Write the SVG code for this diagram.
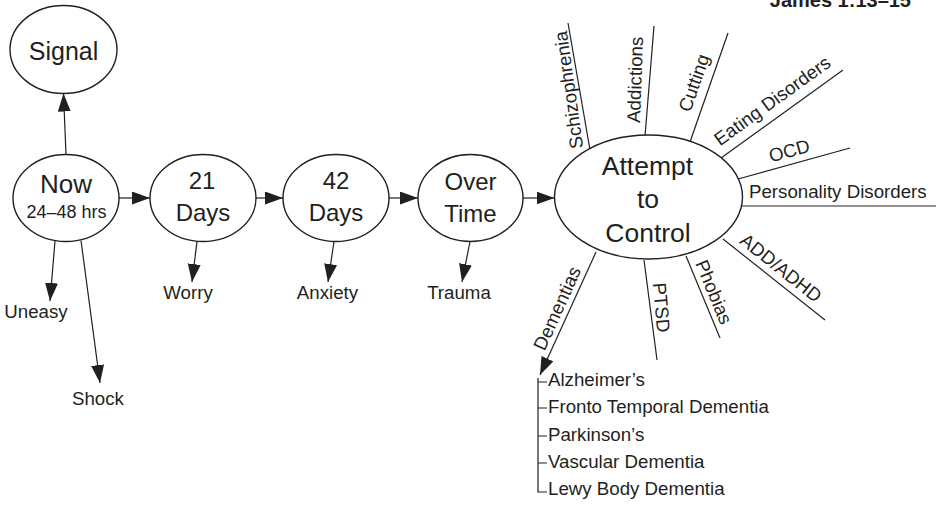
<svg xmlns="http://www.w3.org/2000/svg" width="940" height="505" viewBox="0 0 940 505">
<defs>
<marker id="ah" markerUnits="userSpaceOnUse" markerWidth="20" markerHeight="14" refX="18" refY="6.5" orient="auto">
<path d="M0,0 L18,6.5 L0,13 z" fill="#231f20"/>
</marker>
<style>
text{font-family:"Liberation Sans",Arial,sans-serif;fill:#231f20;}
.node ellipse{fill:#fff;stroke:#231f20;stroke-width:1.4;}
.big{font-size:24px;text-anchor:middle;}
.mid{font-size:18px;text-anchor:middle;}
.lbl{font-size:18.7px;}
.c{text-anchor:middle;}
.conn line,.conn path{stroke:#231f20;stroke-width:1.2;fill:none;}
.arr{marker-end:url(#ah);}
</style>
</defs>
<rect width="940" height="505" fill="#fff"/>
<text x="911" y="7" style="font-size:20px;font-weight:bold;text-anchor:end">James 1:13–15</text>
<g class="conn" id="connectors">
<line class="arr" x1="66" y1="154.5" x2="63.5" y2="93.5"/>
<line class="arr" x1="119" y1="198" x2="150" y2="198"/>
<line class="arr" x1="256" y1="198" x2="283" y2="198"/>
<line class="arr" x1="389" y1="198" x2="418" y2="198"/>
<line class="arr" x1="523" y1="198" x2="554.5" y2="198"/>
<line class="arr" x1="55" y1="241" x2="50" y2="301"/>
<line class="arr" x1="81" y1="240.5" x2="100" y2="383"/>
<line class="arr" x1="197" y1="241.5" x2="192" y2="282"/>
<line class="arr" x1="334" y1="241.5" x2="328" y2="282"/>
<line class="arr" x1="470" y1="241.5" x2="462" y2="282"/>
<line x1="590" y1="150" x2="568" y2="23"/>
<line x1="645" y1="136" x2="654" y2="26"/>
<line x1="690" y1="142" x2="728" y2="33"/>
<line x1="721" y1="158" x2="843" y2="70"/>
<line x1="738" y1="179" x2="850" y2="148"/>
<line x1="741" y1="206" x2="936" y2="206"/>
<line x1="723" y1="239" x2="825" y2="320"/>
<line x1="686" y1="256" x2="720" y2="338"/>
<line x1="644" y1="260" x2="657" y2="360"/>
<line class="arr" x1="596" y1="252" x2="540" y2="375"/>
<path d="M538,378 V492 H547 M538,382 H547 M538,408 H547 M538,436 H547 M538,463 H547"/>
</g>
<g class="node" id="signal"><ellipse cx="63.5" cy="49.5" rx="53.5" ry="44"/><text class="big" x="63.5" y="60" style="font-size:25px">Signal</text></g>
<g class="node" id="now"><ellipse cx="66" cy="198" rx="53" ry="43.5"/><text class="big" x="66" y="193" style="font-size:26px">Now</text><text class="mid" x="66.5" y="218">24–48 hrs</text></g>
<g class="node" id="days21"><ellipse cx="203" cy="198" rx="53" ry="43.5"/><text class="big" x="202" y="189">21</text><text class="big" x="203" y="221">Days</text></g>
<g class="node" id="days42"><ellipse cx="336" cy="198" rx="53" ry="43.5"/><text class="big" x="336" y="189">42</text><text class="big" x="336" y="221">Days</text></g>
<g class="node" id="overtime"><ellipse cx="470.5" cy="198" rx="52.5" ry="43.5"/><text class="big" x="470.5" y="190">Over</text><text class="big" x="470.5" y="222">Time</text></g>
<g class="node" id="attempt"><ellipse cx="648.5" cy="197" rx="94" ry="62"/><text class="big" x="647.5" y="175" style="font-size:26.5px">Attempt</text><text class="big" x="648" y="208" style="font-size:26.5px">to</text><text class="big" x="648" y="242" style="font-size:26.5px">Control</text></g>
<g id="uneasy"><text class="lbl c" x="36" y="318">Uneasy</text></g>
<g id="shock"><text class="lbl c" x="98" y="405">Shock</text></g>
<g id="worry"><text class="lbl c" x="188" y="299">Worry</text></g>
<g id="anxiety"><text class="lbl c" x="327.5" y="299">Anxiety</text></g>
<g id="trauma"><text class="lbl c" x="459" y="299">Trauma</text></g>
<g id="schizophrenia"><text class="lbl c" transform="translate(575,89) rotate(-98)">Schizophrenia</text></g>
<g id="addictions"><text class="lbl c" transform="translate(641.5,80) rotate(-88)">Addictions</text></g>
<g id="cutting"><text class="lbl c" transform="translate(700,85) rotate(-70.8)">Cutting</text></g>
<g id="eating"><text class="lbl c" transform="translate(776,106) rotate(-35.8)">Eating Disorders</text></g>
<g id="ocd"><text class="lbl c" transform="translate(791,157) rotate(-15.5)">OCD</text></g>
<g id="personality"><text class="lbl" x="749" y="198">Personality Disorders</text></g>
<g id="addadhd"><text class="lbl c" transform="translate(777,273) rotate(38.5)">ADD/ADHD</text></g>
<g id="phobias"><text class="lbl c" transform="translate(708,294.5) rotate(67.5)">Phobias</text></g>
<g id="ptsd"><text class="lbl c" transform="translate(655,308) rotate(85)">PTSD</text></g>
<g id="dementias"><text class="lbl c" transform="translate(563,311) rotate(-65.6)">Dementias</text></g>
<g id="dementia-list">
<text class="lbl" x="548" y="386">Alzheimer’s</text>
<text class="lbl" x="548" y="413">Fronto Temporal Dementia</text>
<text class="lbl" x="548" y="441">Parkinson’s</text>
<text class="lbl" x="548" y="468">Vascular Dementia</text>
<text class="lbl" x="548" y="495">Lewy Body Dementia</text>
</g>
</svg>
